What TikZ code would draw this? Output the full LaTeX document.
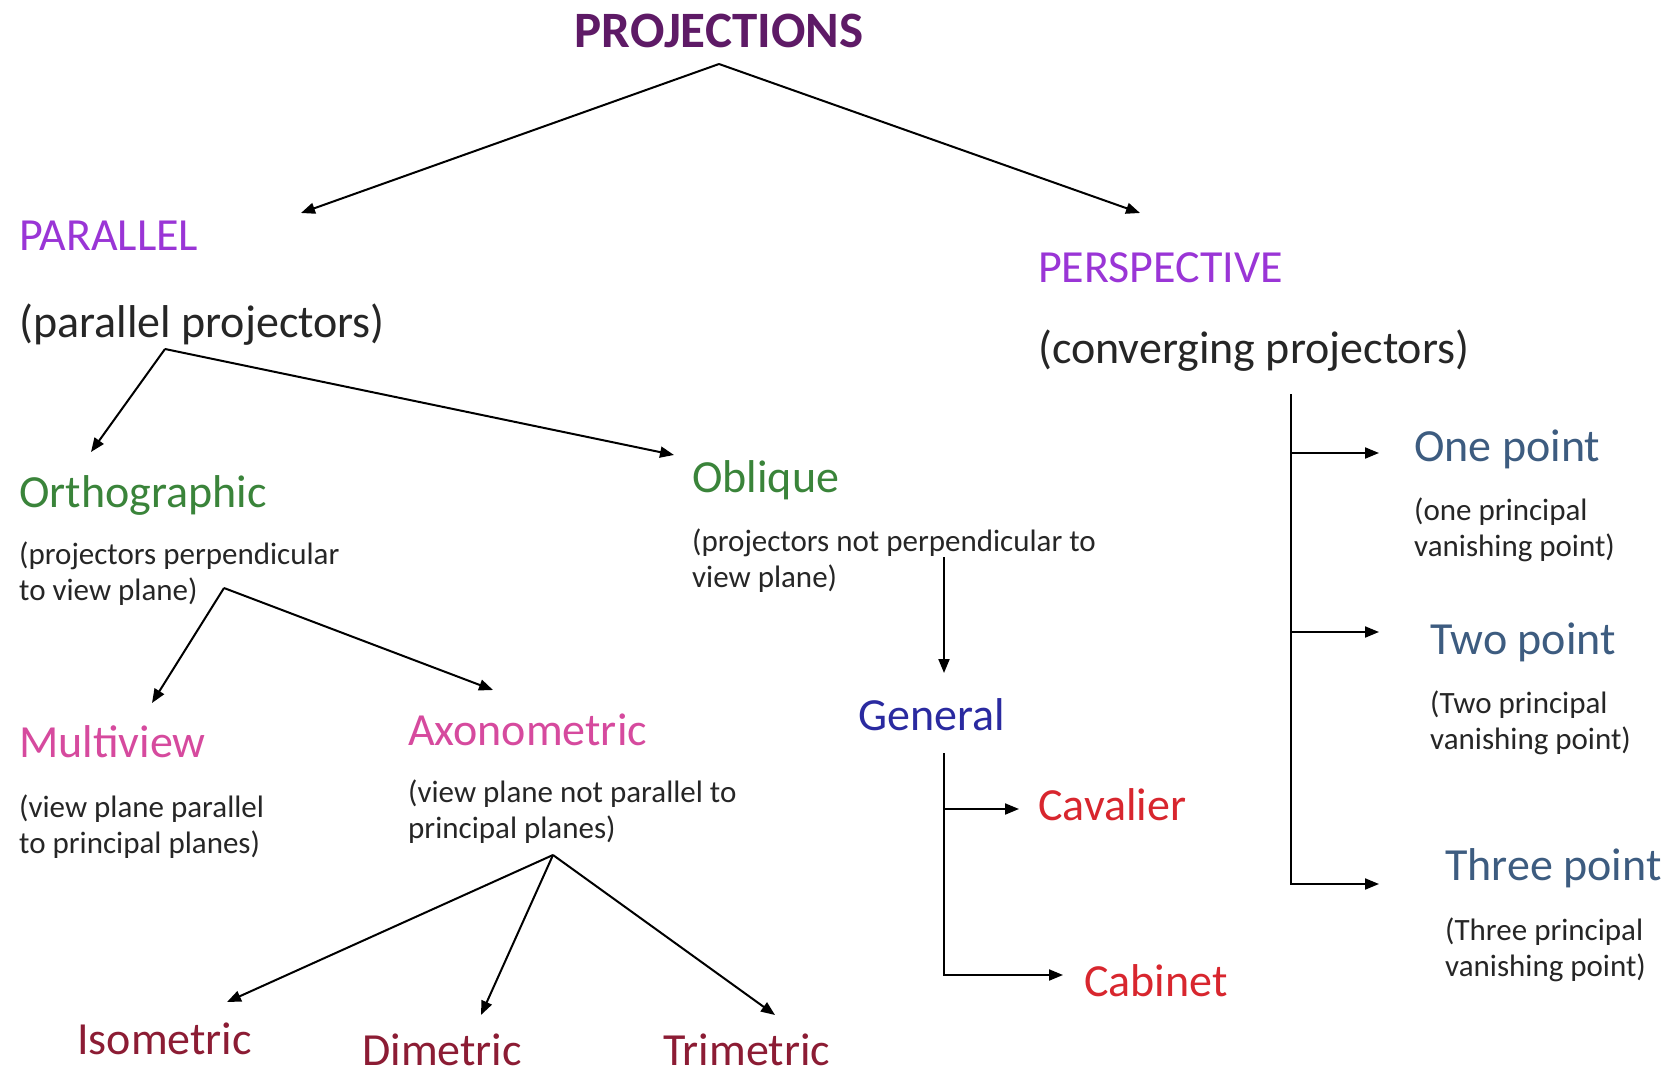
\documentclass[tikz,border=0pt]{standalone}
\usepackage{fontspec}
\setmainfont{Carlito}
\usetikzlibrary{arrows.meta}
\definecolor{titlec}{HTML}{5E1A66}
\definecolor{violetc}{HTML}{9A35D6}
\definecolor{greenc}{HTML}{3A843A}
\definecolor{pinkc}{HTML}{D64A9E}
\definecolor{bluec}{HTML}{2A2AA0}
\definecolor{redc}{HTML}{D8262E}
\definecolor{maroonc}{HTML}{8C1C34}
\definecolor{slatec}{HTML}{3D5C80}
\newcommand{\twoline}[2]{\vtop{\hbox{#1}\hbox{#2}}}
\begin{document}
\begin{tikzpicture}[x=1pt,y=-1pt,
  lbl/.style={anchor=base west, inner sep=0pt, font=\fontsize{46}{55}\selectfont},
  subt/.style={anchor=base west, inner sep=0pt, font=\fontsize{31}{36}\selectfont, text=black!85},
  conn/.style={line width=2pt, -{Triangle[length=14pt,width=11pt]}},
  plainline/.style={line width=2pt}]
\useasboundingbox[fill=white] (0,0) rectangle (1670,1075);

% texts
\node[anchor=base, inner sep=0pt, font=\fontsize{51}{61}\selectfont\bfseries, text=titlec] (proj) at (719,48) {PROJECTIONS};
\node[lbl, text=violetc] (par) at (19,251) {PARALLEL};
\node[anchor=base west, inner sep=0pt, font=\fontsize{46}{55}\selectfont, text=black!85] (parS) at (19,337) {(parallel projectors)};
\node[lbl, text=violetc] (per) at (1038,283) {PERSPECTIVE};
\node[anchor=base west, inner sep=0pt, font=\fontsize{46}{55}\selectfont, text=black!85] (perS) at (1038,363) {(converging projectors)};

\node[lbl, text=greenc] (ortho) at (19,507) {Orthographic};
\node[subt] (orthoS) at (19,564) {\twoline{(projectors perpendicular}{to view plane)}};
\node[lbl, text=greenc] (obl) at (692,492) {Oblique};
\node[subt] (oblS) at (692,551) {\twoline{(projectors not perpendicular to}{view plane)}};

\node[lbl, text=pinkc] (multi) at (19,757) {Multiview};
\node[subt] (multiS) at (19,817) {\twoline{(view plane parallel}{to principal planes)}};
\node[lbl, text=pinkc] (axo) at (408,745) {Axonometric};
\node[subt] (axoS) at (408,802) {\twoline{(view plane not parallel to}{principal planes)}};

\node[lbl, text=maroonc] (iso) at (77,1054) {Isometric};
\node[lbl, text=maroonc] (di) at (362,1065) {Dimetric};
\node[lbl, text=maroonc] (tri) at (663,1065) {Trimetric};

\node[lbl, text=bluec] (gen) at (858,730) {General};
\node[lbl, text=redc] (cav) at (1038,820) {Cavalier};
\node[lbl, text=redc] (cab) at (1084,996) {Cabinet};

\node[lbl, text=slatec] (one) at (1414,461) {One point};
\node[subt] (oneS) at (1414,520) {\twoline{(one principal}{vanishing point)}};
\node[lbl, text=slatec] (two) at (1430,654) {Two point};
\node[subt] (twoS) at (1430,713) {\twoline{(Two principal}{vanishing point)}};
\node[lbl, text=slatec] (three) at (1445,880) {Three point};
\node[subt] (threeS) at (1445,940) {\twoline{(Three principal}{vanishing point)}};

% connector coordinates
\coordinate (aProj) at (719,64);
\coordinate (tPar) at (301,213);
\coordinate (tPer) at (1140,213);
\coordinate (aPar) at (165,349);
\coordinate (tOrtho) at (91,452);
\coordinate (tObl) at (674,455);
\coordinate (aOrtho) at (224,588);
\coordinate (tMulti) at (152,703);
\coordinate (tAxo) at (493,690);
\coordinate (aAxo) at (553,855);
\coordinate (tIso) at (227,1002);
\coordinate (tDi) at (481,1015);
\coordinate (tTri) at (775,1015);
\coordinate (aObl) at (944,557);
\coordinate (tGen) at (944,673);
\coordinate (aGen) at (944,753);
\coordinate (jCav) at (944,809);
\coordinate (jCab) at (944,975);
\coordinate (tCav) at (1019,809);
\coordinate (tCab) at (1063,975);
\coordinate (aPer) at (1291,394);
\coordinate (jOne) at (1291,453);
\coordinate (jTwo) at (1291,632);
\coordinate (jThree) at (1291,884);
\coordinate (tOne) at (1379,453);
\coordinate (tTwo) at (1379,632);
\coordinate (tThree) at (1379,884);

% connectors
\draw[conn] (aProj) -- (tPar);
\draw[conn] (aProj) -- (tPer);
\draw[conn] (aPar) -- (tOrtho);
\draw[conn] (aPar) -- (tObl);
\draw[conn] (aOrtho) -- (tMulti);
\draw[conn] (aOrtho) -- (tAxo);
\draw[conn] (aAxo) -- (tIso);
\draw[conn] (aAxo) -- (tDi);
\draw[conn] (aAxo) -- (tTri);
\draw[conn] (aObl) -- (tGen);
\draw[plainline] (aGen) -- (jCab);
\draw[conn] (jCav) -- (tCav);
\draw[conn] ([xshift=-1pt]jCab) -- (tCab);
\draw[plainline] (aPer) -- (jThree);
\draw[conn] (jOne) -- (tOne);
\draw[conn] (jTwo) -- (tTwo);
\draw[conn] ([xshift=-1pt]jThree) -- (tThree);
\end{tikzpicture}
\end{document}
